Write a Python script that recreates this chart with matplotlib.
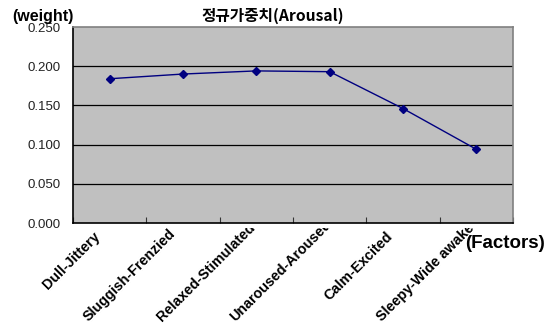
import matplotlib
matplotlib.use("Agg")
import matplotlib.pyplot as plt
from matplotlib.transforms import Bbox, IdentityTransform

factors = ["Dull-Jittery", "Sluggish-Frenzied", "Relaxed-Stimulated",
           "Unaroused-Aroused", "Calm-Excited", "Sleepy-Wide awake"]
weights = [0.184, 0.190, 0.194, 0.193, 0.146, 0.094]
yticks = [0.000, 0.050, 0.100, 0.150, 0.200, 0.250]

W, H = 551, 331
fig = plt.figure(figsize=(W / 100, H / 100), dpi=100)
ax = fig.add_axes([73 / W, 1 - 223 / H, 440 / W, 196 / H])
ax.set_facecolor("#c0c0c0")

xs = [i + 0.5 for i in range(len(factors))]
ax.plot(xs, weights, color="#000080", lw=1.0, marker="D", ms=4.5,
        markerfacecolor="#000080", markeredgecolor="#000080")

ax.set_xlim(0, len(factors))
ax.set_ylim(0, 0.25)
ax.set_yticks(yticks)
ax.set_yticklabels([f"{v:.3f}" for v in yticks], family="Liberation Sans",
                   fontsize=9.5, color="#222222")
for v in yticks[1:-1]:
    ax.axhline(v, color="black", lw=0.9, zorder=1)

ax.set_xticks(range(len(factors) + 1))
ax.set_xticklabels([])
ax.tick_params(axis="x", direction="in", length=4, width=0.8, color="#333333")
ax.tick_params(axis="y", length=0, pad=9)

for side in ("top", "right"):
    ax.spines[side].set_color("#808080")
    ax.spines[side].set_linewidth(1.2)
for side in ("left", "bottom"):
    ax.spines[side].set_color("black")
    ax.spines[side].set_linewidth(1.2)

# 45도 회전 범주 라벨: 오른쪽 끝을 눈금 중심 아래에 두고,
# 아래 여백을 넘는 긴 라벨은 대각선 위로 밀어 올린 뒤 축 아래에서 잘라냄
bottom_limit = 7      # px, 라벨이 내려갈 수 있는 최저 높이
clip = Bbox.from_extents(0, 0, W, H - 228)
labels = []
for x, name in zip(xs, factors):
    px, py = ax.transData.transform((x, 0))
    t = fig.text(px - 17, py - 6, name, rotation=45, ha="right", va="top",
                 rotation_mode="anchor", fontsize=10.3, fontweight="bold",
                 family="Liberation Sans", transform=IdentityTransform())
    t.set_clip_box(clip)
    t.set_clip_on(True)
    labels.append(t)

fig.canvas.draw()
renderer = fig.canvas.get_renderer()
for t in labels:
    bb = t.get_window_extent(renderer)
    excess = bottom_limit - bb.y0
    if excess > 0:
        ex, ey = t.get_position()
        t.set_position((ex + excess, ey + excess))

fig.text(12 / W, 1 - 16 / H, "(weight)", fontsize=11.5, fontweight="bold",
         family="Liberation Sans", va="center", ha="left")
fig.text(465 / W, 1 - 243 / H, "(Factors)", fontsize=13.5, fontweight="bold",
         family="Liberation Sans", va="center", ha="left")
fig.text(273 / W, 1 - 16 / H, "정규가중치(Arousal)", fontsize=11.3,
         fontweight="bold", family=["Noto Sans CJK KR", "DejaVu Sans"],
         va="center", ha="center")

fig.savefig("out.png", dpi=100)
